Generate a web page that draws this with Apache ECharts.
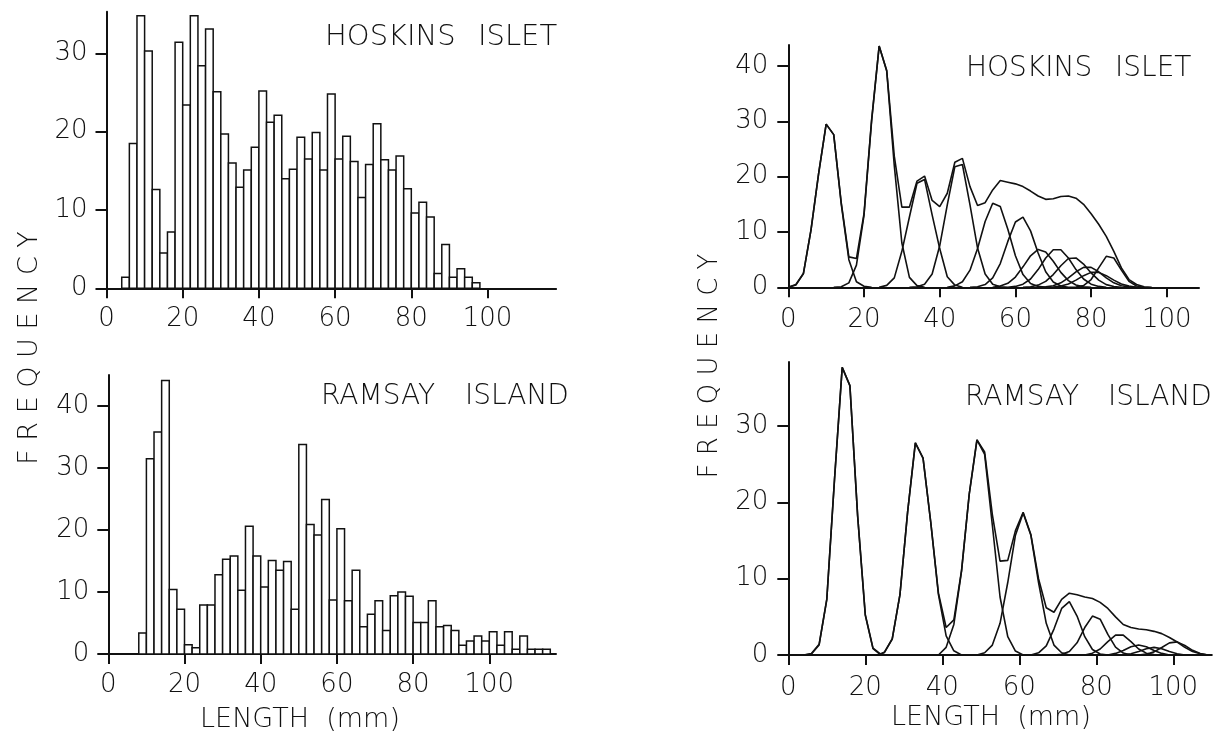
<!DOCTYPE html>
<html><head><meta charset="utf-8">
<script src="https://cdn.jsdelivr.net/npm/echarts@6/dist/echarts.min.js"></script>
<style>html,body{margin:0;padding:0;background:#fff}#c{width:1215px;height:736px}</style>
</head><body><div id="c"></div>
<script>
// ---------- DATA ----------
const binWidth = 2;
const hoskinsBinStart = [4,6,8,10,12,14,16,18,20,22,24,26,28,30,32,34,36,38,40,42,44,46,48,50,52,54,56,58,60,62,64,66,68,70,72,74,76,78,80,82,84,86,88,90,92,94,96];
const hoskinsFreq = [1.4,18.5,34.8,30.3,12.6,4.5,7.2,31.4,23.4,34.8,28.4,33.1,25.1,19.7,16.0,12.9,15.1,18.0,25.2,21.2,22.1,14.0,15.2,19.3,16.5,19.9,15.1,24.8,16.5,19.4,16.2,11.6,15.8,21.0,16.4,15.1,16.9,12.7,9.6,11.0,9.1,1.9,5.6,1.4,2.5,1.4,0.7];
const ramsayBinStart = [8,10,12,14,16,18,20,22,24,26,28,30,32,34,36,38,40,42,44,46,48,50,52,54,56,58,60,62,64,66,68,70,72,74,76,78,80,82,84,86,88,90,92,94,96,98,100,102,104,106,108,110,112,114];
const ramsayFreq = [3.4,31.5,35.8,44.1,10.4,7.2,1.5,1.0,7.9,7.9,12.8,15.3,15.8,10.3,20.6,15.8,10.8,15.1,13.5,14.9,7.2,33.8,20.9,19.2,24.9,8.7,20.2,8.6,13.5,4.4,6.4,8.6,3.8,9.4,10.0,9.3,5.1,5.1,8.6,4.4,4.6,3.8,1.4,2.1,2.9,2.1,3.6,1.4,3.6,0.75,2.9,0.75,0.75,0.75];

// fitted components, Hoskins Islet: [length, frequency]
const hoskinsTotal = [[0,0],[2,0.4],[4,2.5],[6,10.4],[8,20.5],[10,29.5],[12,27.6],[14,15.2],[16,5.5],[18,5.2],[20,13.3],[22,30.2],[24,43.6],[26,39.2],[28,23.7],[30,14.5],[32,14.5],[34,19.2],[36,20.1],[38,15.7],[40,14.6],[42,17.0],[44,22.6],[46,23.3],[48,18.2],[50,14.8],[52,15.3],[54,17.6],[56,19.3],[58,19.0],[60,18.7],[62,18.2],[64,17.4],[66,16.5],[68,15.9],[70,16.0],[72,16.4],[74,16.5],[76,16.1],[78,15.0],[80,13.3],[82,11.4],[84,9.2],[86,6.5],[88,3.5],[90,1.4],[92,0.5],[94,0.1],[96,0]];
const hoskinsC1 = [[0,0],[2,0.5],[4,2.5],[6,10.4],[8,20.5],[10,29.5],[12,27.6],[14,15],[16,5],[18,1.0],[20,0.2],[22,0]];
const hoskinsC2 = [[12,0],[14,0.1],[16,0.8],[18,4],[20,13],[22,30],[24,43.6],[26,39.1],[28,22],[30,8],[32,1.8],[34,0.3],[36,0]];
const hoskinsC3 = [[24,0],[26,0.35],[28,1.7],[30,6.5],[32,12.7],[34,18.8],[36,19.5],[38,13.1],[40,7.0],[42,1.9],[44,0.4],[46,0]];
const hoskinsC4 = [[32,0],[34,0.1],[36,0.55],[38,2.4],[40,7.5],[42,14.9],[44,21.8],[46,22.2],[48,14.9],[50,7.1],[52,2.4],[54,0.55],[56,0.1],[58,0]];
const hoskinsC5 = [[42,0],[44,0.26],[46,1.0],[48,3.1],[50,7.0],[52,11.9],[54,15.2],[56,14.6],[58,10.5],[60,5.7],[62,2.3],[64,0.7],[66,0.16],[68,0]];
const hoskinsC6 = [[48,0],[50,0.1],[52,0.5],[54,1.7],[56,4.3],[58,8.3],[60,11.8],[62,12.7],[64,10.2],[66,6.2],[68,2.8],[70,0.97],[72,0.25],[74,0]];
const hoskinsC7 = [[54,0],[56,0.22],[58,0.72],[60,1.85],[62,3.7],[64,5.7],[66,6.85],[68,6.4],[70,4.7],[72,2.7],[74,1.2],[76,0.41],[78,0.11],[80,0]];
const hoskinsC8 = [[58,0],[60,0.16],[62,0.56],[64,1.5],[66,3.2],[68,5.3],[70,6.8],[72,6.8],[74,5.3],[76,3.2],[78,1.5],[80,0.56],[82,0.16],[84,0]];
const hoskinsC9 = [[62,0],[64,0.11],[66,0.39],[68,1.07],[70,2.3],[72,3.9],[74,5.2],[76,5.3],[78,4.2],[80,2.6],[82,1.3],[84,0.48],[86,0.14],[88,0]];
const hoskinsC10 = [[66,0],[68,0.08],[70,0.29],[72,0.8],[74,1.7],[76,2.8],[78,3.6],[80,3.6],[82,2.8],[84,1.7],[86,0.8],[88,0.29],[90,0.08],[92,0]];
const hoskinsC11 = [[68,0],[70,0.06],[72,0.22],[74,0.6],[76,1.3],[78,2.1],[80,2.7],[82,2.7],[84,2.1],[86,1.3],[88,0.6],[90,0.22],[92,0]];
const hoskinsC12 = [[74,0],[76,0.05],[78,0.32],[80,1.4],[82,3.5],[84,5.6],[86,5.3],[88,3.1],[90,1.07],[92,0.23],[94,0]];

// fitted components, Ramsay Island
const ramsayTotal = [[4,0],[6,0.2],[8,1.4],[10,7.3],[12,23],[14,37.7],[16,35.3],[18,18.3],[20,5.3],[22,0.9],[24,0.1],[25,0.4],[27,2.1],[29,7.9],[31,18.8],[33,27.8],[35,25.8],[37,17.4],[39,8.1],[41,3.6],[43,4.6],[45,11.1],[47,21.1],[49,28.2],[51,26.6],[53,18.4],[55,12.3],[57,12.4],[59,16.3],[61,18.7],[63,15.8],[65,10.0],[67,6.2],[69,5.6],[71,7.3],[73,8.1],[75,7.9],[77,7.6],[79,7.4],[81,6.9],[83,6.1],[85,5.0],[87,4.0],[89,3.6],[91,3.4],[93,3.3],[95,3.1],[97,2.8],[99,2.3],[101,1.7],[103,1.0],[105,0.45],[107,0.15],[109,0]];
const ramsayC1 = [[4,0],[6,0.13],[8,1.3],[10,7.3],[12,23],[14,37.7],[16,35.3],[18,18.3],[20,5.2],[22,0.83],[24,0]];
const ramsayC2 = [[23,0],[25,0.34],[27,2.1],[29,7.9],[31,18.8],[33,27.8],[35,25.8],[37,17.4],[39,7.9],[41,2.5],[43,0.55],[45,0]];
const ramsayC3 = [[39,0],[41,1.0],[43,4.0],[45,11.0],[47,21.1],[49,28.2],[51,26.3],[53,17.0],[55,7.6],[57,2.4],[59,0.52],[61,0]];
const ramsayC4 = [[49,0],[51,0.29],[53,1.3],[55,4.15],[57,9.5],[59,15.7],[61,18.6],[63,15.7],[65,9.5],[67,4.15],[69,1.3],[71,0.29],[73,0]];
const ramsayC5 = [[63,0],[65,0.29],[67,1.2],[69,3.4],[71,6.1],[73,7.0],[75,5.1],[77,2.4],[79,0.72],[81,0.14],[83,0]];
const ramsayC6 = [[69,0],[71,0.09],[73,0.46],[75,1.6],[77,3.6],[79,5.1],[81,4.7],[83,2.7],[85,1.03],[87,0.25],[89,0]];
const ramsayC7 = [[77,0],[79,0.24],[81,0.79],[83,1.75],[85,2.6],[87,2.6],[89,1.75],[91,0.79],[93,0.24],[95,0.05],[97,0]];
const ramsayC8 = [[83,0],[85,0.21],[87,0.58],[89,1.07],[91,1.3],[93,1.07],[95,0.58],[97,0.21],[99,0]];
const ramsayC9 = [[87,0],[89,0.17],[91,0.45],[93,0.82],[95,1.0],[97,0.82],[99,0.45],[101,0.17],[103,0]];
const ramsayC10 = [[91,0],[93,0.11],[95,0.41],[97,0.98],[99,1.59],[101,1.72],[103,1.25],[105,0.61],[107,0.2],[109,0]];

const xTickValues = [0,20,40,60,80,100];
const yTicksHoskinsHist = [0,10,20,30];
const yTicksRamsayHist = [0,10,20,30,40];
const yTicksHoskinsFit = [0,10,20,30,40];
const yTicksRamsayFit = [0,10,20,30];

// ---------- CHART ----------
const INK = '#111';
const FONT = '"DejaVu Sans", "Liberation Sans", sans-serif';
const WEIGHT = 200;
const chart = echarts.init(document.getElementById('c'), null, {renderer:'canvas'});

function xAx(gi, max, margin){
  return {type:'value', gridIndex:gi, min:0, max:max,
    axisLine:{show:true, onZero:false, lineStyle:{color:INK, width:2}},
    axisTick:{show:true, inside:false, length:10, customValues:xTickValues, lineStyle:{color:INK, width:2}},
    axisLabel:{show:true, customValues:xTickValues, margin:margin, color:INK, fontSize:26, fontWeight:WEIGHT, fontFamily:FONT},
    splitLine:{show:false}};
}
function yAx(gi, max, ticks, margin){
  return {type:'value', gridIndex:gi, min:0, max:max,
    axisLine:{show:true, onZero:false, lineStyle:{color:INK, width:2}},
    axisTick:{show:true, inside:false, length:11, customValues:ticks, lineStyle:{color:INK, width:2}},
    axisLabel:{show:true, customValues:ticks, margin:margin, color:INK, fontSize:26, fontWeight:WEIGHT, fontFamily:FONT},
    splitLine:{show:false}};
}
function barItem(params, api){
  const x0 = api.value(0), v = api.value(1), w = api.value(2);
  const p0 = api.coord([x0, v]);
  const p1 = api.coord([x0 + w, 0]);
  return {type:'rect', shape:{x:p0[0], y:p0[1], width:p1[0]-p0[0], height:p1[1]-p0[1]},
    style:{fill:'#fff', stroke:INK, lineWidth:1.5}};
}
function hist(idx, starts, freqs){
  return {type:'custom', xAxisIndex:idx, yAxisIndex:idx, renderItem:barItem,
    data: starts.map((s,i)=>[s, freqs[i], binWidth]), encode:{x:0, y:1}, silent:true, animation:false};
}
function curve(idx, data){
  return {type:'line', xAxisIndex:idx, yAxisIndex:idx, data:data, showSymbol:false, symbol:'none',
    lineStyle:{color:INK, width:1.6}, silent:true, animation:false, z:3};
}
function T(text, x, y, size, align, rot){
  return {type:'text', x:x, y:y, rotation:rot||0, silent:true,
    style:{text:text, font:WEIGHT+' '+size+'px '+FONT, fill:INK, textAlign:align||'left', textVerticalAlign:'middle'}};
}

const series = [
  hist(0, hoskinsBinStart, hoskinsFreq),
  hist(1, ramsayBinStart, ramsayFreq)
];
[hoskinsTotal,hoskinsC1,hoskinsC2,hoskinsC3,hoskinsC4,hoskinsC5,hoskinsC6,hoskinsC7,hoskinsC8,hoskinsC9,hoskinsC10,hoskinsC11,hoskinsC12]
  .forEach(d => series.push(curve(2, d)));
[ramsayTotal,ramsayC1,ramsayC2,ramsayC3,ramsayC4,ramsayC5,ramsayC6,ramsayC7,ramsayC8,ramsayC9,ramsayC10]
  .forEach(d => series.push(curve(3, d)));

chart.setOption({
  backgroundColor:'#fff',
  animation:false,
  grid:[
    {left:106.5, top:11.8, width:449.6, height:276.5, containLabel:false, outerBoundsMode:'none'},
    {left:108.3, top:375, width:447.7, height:279, containLabel:false, outerBoundsMode:'none'},
    {left:788.3, top:45, width:410.7, height:242.3, containLabel:false, outerBoundsMode:'none'},
    {left:788.3, top:362, width:423.5, height:293, containLabel:false, outerBoundsMode:'none'}
  ],
  xAxis:[ xAx(0,118,18), xAx(1,117.5,18), xAx(2,108.5,20), xAx(3,110,20) ],
  yAxis:[ yAx(0,35.3,yTicksHoskinsHist,19), yAx(1,45,yTicksRamsayHist,19), yAx(2,43.8,yTicksHoskinsFit,20), yAx(3,38.4,yTicksRamsayFit,20) ],
  series: series,
  graphic:{elements:[
    T('HOSKINS', 325, 37, 29), T('ISLET', 478, 37, 29),
    T('RAMSAY', 321, 397, 28), T('ISLAND', 465, 397, 28),
    T('HOSKINS', 966, 69, 28), T('ISLET', 1115, 69, 28),
    T('RAMSAY', 965, 398, 28), T('ISLAND', 1108, 398, 28),
    T('LENGTH  (mm)', 300, 720, 27, 'center'),
    T('LENGTH  (mm)', 991, 718, 27, 'center'),
    T('F R E Q U E N C Y', 30, 348, 27, 'center', Math.PI/2),
    T('F R E Q U E N C Y', 710, 366, 26, 'center', Math.PI/2)
  ]}
});
</script>
</body></html>
